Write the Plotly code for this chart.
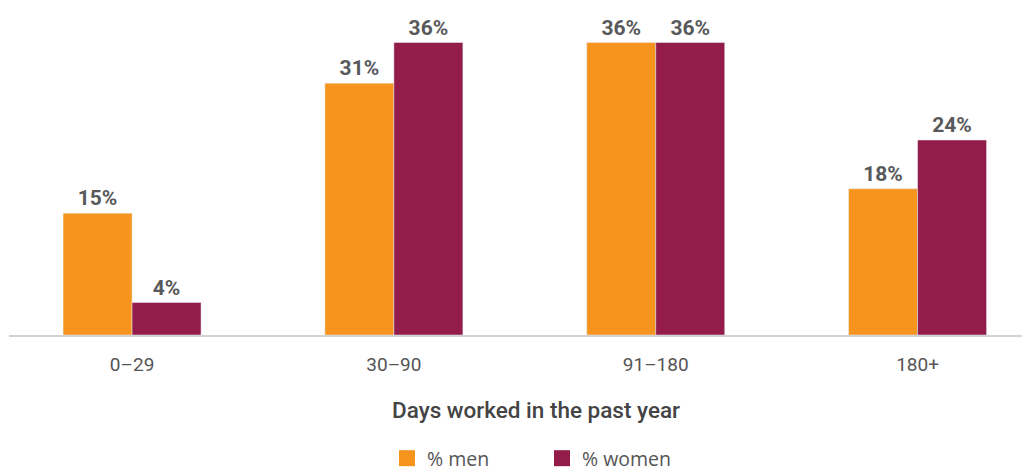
import plotly.graph_objects as go

categories = ["0–29", "30–90", "91–180", "180+"]
men = [15, 31, 36, 18]
women = [4, 36, 36, 24]
text_men = ["15%", "31%", "36%", "18%"]
text_women = ["4%", "36%", "36%", "24%"]
x_title = "Days worked in the past year"

ORANGE = "#F7941D"
MAROON = "#931C4A"
GRAY = "#58595B"

fig = go.Figure()

fig.add_trace(go.Bar(
    x=categories, y=men, name="% men", marker_color=ORANGE,
    text=text_men, textposition="outside", cliponaxis=False,
    textfont=dict(family="Roboto", size=21, color=GRAY, weight="bold"),
    showlegend=False,
))
fig.add_trace(go.Bar(
    x=categories, y=women, name="% women", marker_color=MAROON,
    text=text_women, textposition="outside", cliponaxis=False,
    textfont=dict(family="Roboto", size=21, color=GRAY, weight="bold"),
    showlegend=False,
))

# legend-only markers, bigger squares than the default bar swatch
for name, col in [("% men", ORANGE), ("% women", MAROON)]:
    fig.add_trace(go.Scatter(
        x=[None], y=[None], mode="markers", name=name,
        marker=dict(symbol="square", size=21, color=col),
    ))

# page body has an 8px margin, so margins are shifted to compensate
fig.update_layout(
    width=1030,
    height=472,
    paper_bgcolor="white",
    plot_bgcolor="white",
    barmode="group",
    bargap=0.473,
    bargroupgap=0,
    margin=dict(l=1, r=0, t=2, b=145),
    font=dict(family="Roboto", color=GRAY),
    xaxis=dict(
        range=[-0.47, 3.46],
        showline=True, linecolor="#D3D3D3", linewidth=2,
        ticks="outside", ticklen=11, tickcolor="rgba(0,0,0,0)",
        tickfont=dict(size=19, color="#555555"),
    ),
    yaxis=dict(range=[0, 40], visible=False),
    legend=dict(
        orientation="h", x=0.518, xanchor="center",
        y=-0.38, yanchor="middle",
        font=dict(family="Open Sans", size=19.5, color="#555555"),
        itemwidth=30,
        entrywidth=110,
        tracegroupgap=0,
    ),
)

# axis title sits a bit right of the plot centre in the original
fig.add_annotation(
    text=x_title, xref="paper", yref="paper", x=0.512, y=-0.231,
    xanchor="center", yanchor="middle", showarrow=False,
    font=dict(size=22.5, color="#444444", weight=500),
)

fig.write_html("out.html")
